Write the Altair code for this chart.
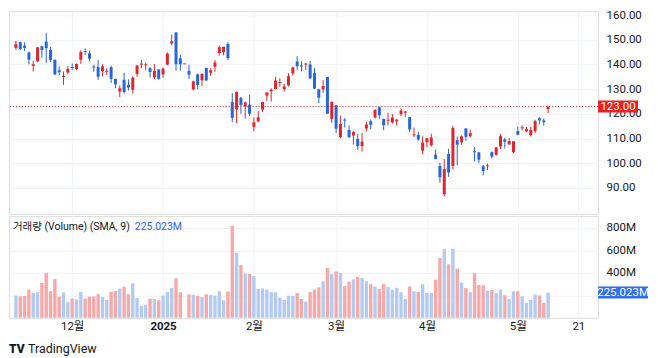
import altair as alt
import pandas as pd

# ---- data (daily candles, Nov 12 2024 .. May 12 2025) ----
dates = (
    ["2024-11-12","2024-11-13","2024-11-14","2024-11-15","2024-11-18","2024-11-19","2024-11-20","2024-11-21","2024-11-22","2024-11-25","2024-11-26","2024-11-27","2024-11-29"]
    + ["2024-12-02","2024-12-03","2024-12-04","2024-12-05","2024-12-06","2024-12-09","2024-12-10","2024-12-11","2024-12-12","2024-12-13","2024-12-16","2024-12-17","2024-12-18","2024-12-19","2024-12-20","2024-12-23","2024-12-24","2024-12-26","2024-12-27","2024-12-30","2024-12-31"]
    + ["2025-01-02","2025-01-03","2025-01-06","2025-01-07","2025-01-08","2025-01-09","2025-01-10","2025-01-13","2025-01-14","2025-01-15","2025-01-16","2025-01-17","2025-01-21","2025-01-22","2025-01-23","2025-01-24","2025-01-27","2025-01-28","2025-01-29","2025-01-30","2025-01-31"]
    + ["2025-02-03","2025-02-04","2025-02-05","2025-02-06","2025-02-07","2025-02-10","2025-02-11","2025-02-12","2025-02-13","2025-02-14","2025-02-18","2025-02-19","2025-02-20","2025-02-21","2025-02-24","2025-02-25","2025-02-26","2025-02-27","2025-02-28"]
    + ["2025-03-03","2025-03-04","2025-03-05","2025-03-06","2025-03-07","2025-03-10","2025-03-11","2025-03-12","2025-03-13","2025-03-14","2025-03-17","2025-03-18","2025-03-19","2025-03-20","2025-03-21","2025-03-24","2025-03-25","2025-03-26","2025-03-27","2025-03-28","2025-03-31"]
    + ["2025-04-01","2025-04-02","2025-04-03","2025-04-04","2025-04-07","2025-04-08","2025-04-09","2025-04-10","2025-04-11","2025-04-14","2025-04-15","2025-04-16","2025-04-17","2025-04-21","2025-04-22","2025-04-23","2025-04-24","2025-04-25","2025-04-28","2025-04-29","2025-04-30"]
    + ["2025-05-01","2025-05-02","2025-05-05","2025-05-06","2025-05-07","2025-05-08","2025-05-09","2025-05-12"]
)

opens = [
    146.78,149.07,147.64,144.87,139.50,141.32,147.41,149.35,145.93,141.99,137.70,135.01,136.78,
    138.83,138.26,142.00,145.11,144.60,138.97,139.01,137.36,137.08,138.94,134.18,129.09,133.86,131.76,129.81,136.28,140.00,139.70,138.55,134.83,138.03,
    136.00,140.01,148.59,153.03,142.58,140.11,137.45,129.99,136.05,133.65,138.64,136.69,139.16,144.66,145.05,148.37,124.80,121.81,126.50,123.10,123.78,
    114.75,116.96,121.76,127.42,129.22,130.09,132.58,130.02,131.56,136.48,141.27,139.51,140.03,140.04,136.56,129.98,129.99,135.00,118.02,
    123.51,110.65,117.58,113.53,111.25,109.90,106.99,114.12,117.03,118.61,122.74,118.00,117.27,116.55,116.99,119.88,120.55,118.73,111.35,111.49,105.13,
    108.52,107.29,103.51,98.91,87.46,103.81,98.89,109.37,108.50,114.11,110.97,104.55,104.45,98.77,98.78,104.52,103.48,106.85,109.69,107.67,104.47,
    113.08,114.18,112.91,111.48,113.05,118.25,117.35,121.97,
]
highs = [
    149.65,149.33,149.00,145.24,141.55,147.13,147.56,152.89,147.16,142.05,139.30,137.22,139.35,
    140.45,140.45,145.79,146.54,145.70,139.95,141.82,140.17,138.44,139.60,134.40,131.59,136.70,134.03,135.29,139.79,141.90,140.85,139.02,140.27,138.07,
    138.88,144.90,152.16,153.13,143.95,140.11,139.92,133.49,136.38,136.45,138.75,138.50,141.83,147.79,147.23,148.97,128.40,129.00,126.89,125.00,127.85,
    118.57,121.20,125.00,128.77,130.37,135.00,134.48,132.24,136.50,139.25,143.44,141.36,140.67,141.46,138.59,130.20,133.73,135.01,125.09,
    123.70,119.31,118.28,115.35,113.00,111.85,112.23,116.77,117.76,121.89,122.90,118.02,120.45,120.00,117.99,122.22,121.29,118.84,114.45,112.87,110.96,
    110.20,111.98,105.63,100.13,101.75,105.85,115.10,110.86,111.29,114.29,113.62,106.54,104.47,99.34,99.81,104.80,106.54,111.92,110.37,110.20,108.92,
    114.94,115.40,114.67,114.74,117.68,118.68,118.23,123.00,
]
lows = [
    146.01,145.90,145.55,140.08,137.15,140.99,142.73,140.70,141.10,135.82,135.67,131.80,136.05,
    137.82,137.82,140.29,143.95,141.31,137.13,133.79,135.21,135.80,132.54,130.42,126.86,128.28,129.55,128.22,135.12,138.65,137.73,134.71,134.02,133.83,
    134.63,139.73,147.82,137.56,137.56,140.11,134.22,129.51,130.05,131.29,133.49,135.46,137.09,143.67,143.72,141.88,116.70,116.25,120.05,118.10,119.19,
    113.01,116.70,120.76,125.21,125.00,129.96,131.02,129.08,131.17,135.50,137.93,137.22,137.78,134.03,130.08,124.44,128.49,120.01,116.40,
    112.28,110.11,114.51,110.22,107.56,105.46,104.77,112.88,113.79,118.15,118.10,113.37,115.43,116.05,115.27,119.16,118.68,112.70,110.66,109.07,103.65,
    106.47,106.79,101.60,92.11,86.62,94.46,97.53,99.15,107.48,109.07,110.50,100.80,100.05,95.04,97.28,102.02,103.11,105.73,106.02,107.44,104.08,
    111.30,113.37,112.66,110.82,112.28,115.85,115.21,120.28,
]
closes = [
    148.29,146.27,146.76,141.98,140.15,147.01,145.89,146.67,141.95,136.02,136.92,135.34,138.25,
    138.63,140.26,145.14,145.06,142.44,138.81,135.07,139.31,137.34,134.25,132.00,130.39,128.91,130.68,134.70,139.67,140.22,139.93,137.01,137.49,134.29,
    138.31,144.47,149.43,140.14,140.11,140.11,135.91,133.23,131.76,136.24,133.57,137.71,140.83,147.07,147.22,142.62,118.42,128.99,123.70,124.65,120.07,
    116.66,118.65,124.83,128.68,129.84,133.57,132.80,131.14,135.29,138.85,139.40,139.23,140.11,134.43,130.28,126.63,131.28,120.15,124.92,
    114.06,115.99,117.30,110.57,112.69,106.98,108.76,115.74,115.58,121.67,119.53,115.43,117.52,118.53,117.70,121.41,120.69,113.76,111.43,109.67,108.38,
    110.15,110.42,101.80,94.31,97.64,96.30,114.33,107.57,110.93,110.71,112.20,104.49,101.49,96.91,98.89,102.71,106.43,111.01,108.73,109.02,108.92,
    111.61,114.50,113.82,113.54,117.06,117.37,116.65,123.00,
]
volumes_m = [
    198.6,191.9,194.5,250.1,221.9,227.8,309.9,400.9,236.4,344.9,190.3,226.4,141.9,
    171.0,164.4,231.2,172.5,188.5,189.3,210.0,184.9,159.2,231.5,237.9,259.4,277.4,209.7,306.5,176.1,105.2,116.2,170.6,167.7,155.7,
    198.2,229.3,265.4,351.8,227.3,0.3,207.6,204.8,195.6,185.2,209.2,201.2,197.7,237.7,155.9,234.7,818.8,579.7,467.1,392.9,390.4,
    371.2,256.6,262.2,251.5,228.2,226.6,178.9,160.3,197.4,195.5,219.2,167.5,143.9,228.2,251.4,271.4,322.6,443.2,389.1,
    411.4,398.2,284.3,321.2,341.8,366.5,354.9,325.4,299.4,277.6,255.5,299.7,273.4,248.8,267.1,228.0,168.5,280.0,236.9,229.9,299.2,
    222.6,221.0,338.9,532.3,611.0,476.2,612.9,437.3,313.4,264.0,228.9,397.0,292.5,288.7,241.0,247.5,220.5,251.1,201.3,168.6,235.0,
    236.1,190.2,133.2,158.5,206.3,198.4,132.9,225.023,
]

# time-axis ticks (bar index) and labels
tick_index = [13, 34, 55, 74, 95, 116, 130]
tick_labels = ["12월", "2025", "2월", "3월", "4월", "5월", "21"]
price_ticks = [90, 100, 110, 120, 130, 140, 150, 160]
volume_ticks = [200, 400, 600, 800]
last_price = 123.00
last_volume = 225.023
legend_label = "거래량 (Volume) (SMA, 9)"

# ---- styling ----
RED = "#e0252c"
BLUE = "#2566d8"
VOL_RED = "#f7a9a8"
VOL_BLUE = "#b3cbf2"
GRID = "#f0f3fa"
BORDER = "#e0e3eb"
TXT = "#131722"
FONT = "Roboto, 'Noto Sans CJK KR', sans-serif"

W = 590
H_PRICE = 203
H_VOL = 102

df = pd.DataFrame({
    "i": list(range(len(dates))),
    "date": dates,
    "open": opens, "high": highs, "low": lows, "close": closes,
    "volume": volumes_m,
})
df["up"] = df["close"] >= df["open"]
df["vdir"] = df["up"].map({True: "up", False: "down"})
df["cdir"] = df["up"].map({True: "up", False: "down"})
df["blo"] = df[["open", "close"]].min(axis=1)
df["bhi"] = df[["open", "close"]].max(axis=1)
df["bhi"] = pd.concat([df["bhi"], df["blo"] + 0.4], axis=1).max(axis=1)

x_scale = alt.Scale(domain=[-0.45, 133.4], nice=False, zero=False)
label_expr = " : ".join(
    f"datum.value == {v} ? '{t}'" for v, t in zip(tick_index, tick_labels)
) + " : ''"

candle_color = alt.Color(
    "cdir:N", scale=alt.Scale(domain=["up", "down"], range=[RED, BLUE]), legend=None
)

price_axis = alt.Axis(
    orient="right", values=price_ticks, format=".2f", title=None,
    ticks=False, domain=False, grid=True, gridColor=GRID, labelOverlap=False,
    labelPadding=8, labelFontSize=11.5, labelColor=TXT, labelFont=FONT,
)
y_price = alt.Scale(domain=[79.47, 161.62], nice=False, zero=False)

x_price_axis = alt.Axis(values=tick_index, grid=True, gridColor=GRID, labels=False,
                        ticks=False, domain=False, title=None)

base = alt.Chart(df)

wicks = base.mark_rule(strokeWidth=1).encode(
    x=alt.X("i:Q", scale=x_scale, axis=x_price_axis),
    y=alt.Y("low:Q", scale=y_price, axis=price_axis),
    y2="high:Q",
    color=candle_color,
)
bodies = base.mark_bar(size=3).encode(
    x=alt.X("i:Q", scale=x_scale, axis=x_price_axis),
    y=alt.Y("blo:Q", scale=y_price, axis=price_axis),
    y2="bhi:Q",
    color=candle_color,
)

last_df = pd.DataFrame({"p": [last_price], "lbl": [f"{last_price:.2f}"]})
price_line = alt.Chart(last_df).mark_rule(
    color=RED, strokeDash=[1, 2], strokeWidth=1
).encode(y=alt.Y("p:Q", scale=y_price, axis=price_axis))
price_badge = alt.Chart(last_df).mark_rect(
    color="#f21d1d", yOffset=-6, y2Offset=6
).encode(y=alt.Y("p:Q", scale=y_price, axis=price_axis), y2="p:Q",
         x=alt.value(W), x2=alt.value(W + 40))
price_badge_txt = alt.Chart(last_df).mark_text(
    color="white", fontSize=11.5, font=FONT, align="center", baseline="middle"
).encode(y=alt.Y("p:Q", scale=y_price, axis=price_axis), x=alt.value(W + 20), text="lbl:N")

price_pane = alt.layer(
    wicks, bodies, price_line, price_badge, price_badge_txt
).properties(width=W, height=H_PRICE)

# ---- volume pane ----
y_vol = alt.Scale(domain=[0, 906.7], nice=False, zero=True)
vol_axis = alt.Axis(
    orient="right", values=volume_ticks, title=None, labelOverlap=False,
    labelExpr="datum.value == 200 ? '' : datum.value + 'M'",
    ticks=False, domain=False, grid=True, gridColor=GRID,
    labelPadding=8, labelFontSize=11.5, labelColor=TXT, labelFont=FONT,
)
x_vol_axis = alt.Axis(
    values=tick_index, labelExpr=label_expr, grid=True, gridColor=GRID,
    ticks=False, domain=False, title=None, labelPadding=3, labelOverlap=False,
    labelFontSize=11.5, labelColor=TXT, labelFont=FONT,
    labelFontWeight={"condition": {"test": "datum.value == 34", "value": "bold"}, "value": "normal"},
)
vol_bars = base.mark_bar(size=3.4).encode(
    x=alt.X("i:Q", scale=x_scale, axis=x_vol_axis),
    y=alt.Y("volume:Q", scale=y_vol, axis=vol_axis),
    color=alt.Color("vdir:N", scale=alt.Scale(domain=["down", "up"], range=[VOL_RED, VOL_BLUE]), legend=None),
)
vol_df = pd.DataFrame({"v": [last_volume], "lbl": [f"{last_volume:.3f}M"], "leg": [legend_label]})
vol_badge = alt.Chart(vol_df).mark_rect(
    color="#2f6ff0", yOffset=-6, y2Offset=6
).encode(y=alt.Y("v:Q", scale=y_vol, axis=vol_axis), y2="v:Q",
         x=alt.value(W), x2=alt.value(W + 50))
vol_badge_txt = alt.Chart(vol_df).mark_text(
    color="white", fontSize=11.5, font=FONT, align="center", baseline="middle"
).encode(y=alt.Y("v:Q", scale=y_vol, axis=vol_axis), x=alt.value(W + 25), text="lbl:N")
vol_leg = alt.Chart(vol_df).mark_text(
    color=TXT, fontSize=10.5, font=FONT, align="left", baseline="middle"
).encode(x=alt.value(4), y=alt.value(11), text="leg:N")
vol_leg_val = alt.Chart(vol_df).mark_text(
    color="#2962ff", fontSize=10.5, font=FONT, align="left", baseline="middle"
).encode(x=alt.value(126), y=alt.value(11), text="lbl:N")

logo_df = pd.DataFrame({"a": ["TV"], "b": ["TradingView"]})
logo_mark = alt.Chart(logo_df).mark_text(
    color=TXT, fontSize=12, fontWeight=900, font=FONT, align="left", baseline="middle"
).encode(x=alt.value(0), y=alt.value(133), text="a:N")
logo_txt = alt.Chart(logo_df).mark_text(
    color=TXT, fontSize=12.5, font=FONT, align="left", baseline="middle"
).encode(x=alt.value(19), y=alt.value(133), text="b:N")

vol_pane = alt.layer(
    vol_bars, vol_badge, vol_badge_txt, vol_leg, vol_leg_val, logo_mark, logo_txt
).properties(width=W, height=H_VOL)

chart = (
    alt.vconcat(price_pane, vol_pane, spacing=0)
    .resolve_scale(color="independent")
    .properties(padding=0)
    .configure_view(stroke=BORDER)
    .configure_axis(labelOverlap=False)
    .configure(background="white")
)

chart.save("out.html", embed_options={"renderer": "svg", "actions": False})
